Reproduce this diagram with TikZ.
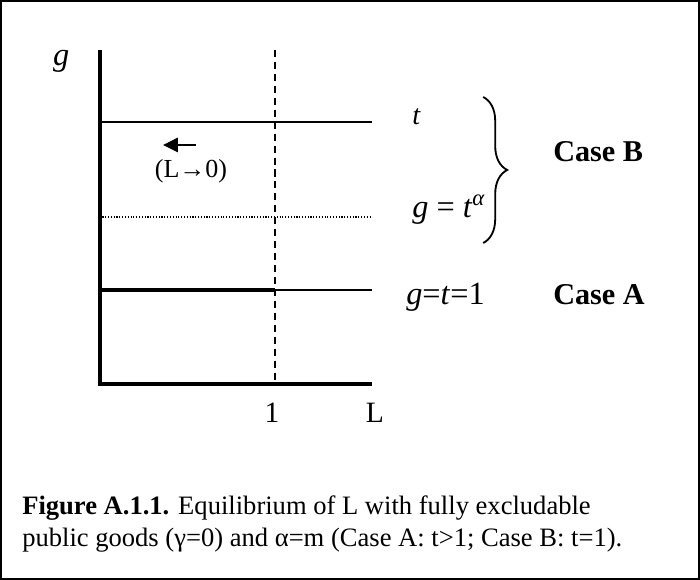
\documentclass[tikz,border=0pt]{standalone}
\usepackage{fontspec}
\setmainfont{Liberation Serif}
\usetikzlibrary{positioning,calc,arrows.meta,decorations.pathreplacing}

\tikzset{
  axisline/.style={line width=2.8pt, line cap=butt},
  thinline/.style={line width=1pt},
  thickline/.style={line width=2.8pt},
  dashline/.style={line width=1.1pt, dash pattern=on 5pt off 3.5pt},
  dotline/.style={line width=0.9pt, dash pattern=on 0.8pt off 1.2pt},
  mathlbl/.style={font=\fontsize{23}{26}\selectfont, inner sep=0pt, anchor=base west},
  caselbl/.style={font=\fontsize{21.5}{24}\selectfont\bfseries, inner sep=0pt, anchor=base west},
  ticklbl/.style={font=\fontsize{21}{24}\selectfont, inner sep=0pt, anchor=base},
  captext/.style={font=\fontsize{18.9}{22.8}\selectfont, inner sep=0pt, anchor=base west},
}

\begin{document}
\begin{tikzpicture}
  \useasboundingbox (0,0) rectangle (17.5,14.5);
  \draw[line width=1.4pt] (0.025,0.025) rectangle (17.475,14.475);

  % axes
  \coordinate (O) at (2.49,4.9);
  \coordinate (Ytop) at (2.49,13.25);
  \coordinate (Xend) at (9.3,4.9);
  \draw[axisline] (Ytop) -- (O) -- (Xend);

  % L = 1
  \coordinate (Dtop) at (6.875,13.25);
  \coordinate (Dbot) at (6.875,4.95);
  \draw[dashline] (Dtop) -- (Dbot);

  % levels
  \coordinate (Tl) at (2.49,11.45);
  \coordinate (Tr) at (9.3,11.45);
  \draw[thinline] (Tl) -- (Tr);
  \coordinate (Al) at (2.49,9.075);
  \coordinate (Ar) at (9.3,9.075);
  \draw[dotline] (Al) -- (Ar);
  \coordinate (Cl) at (2.49,7.25);
  \coordinate (Cm) at (6.875,7.25);
  \coordinate (Cr) at (9.3,7.25);
  \draw[thickline] (Cl) -- (Cm);
  \draw[thinline] (Cm) -- (Cr);

  % direction
  \coordinate (ArrS) at (4.9,10.875);
  \coordinate (ArrE) at (4.075,10.875);
  \draw[line width=1.8pt, -{Triangle[length=10.5pt, width=10pt]}] (ArrS) -- (ArrE);
  \node[font=\fontsize{18.5}{22}\selectfont, inner sep=0pt] (lzero) at (4.775,10.225) {(L→0)};

  % labels
  \node[mathlbl] (gax) at (1.32,12.85) {\textit{g}};
  \node[mathlbl, font=\fontsize{20}{24}\selectfont] (tlbl) at (10.3,11.375) {\textit{t}};
  \node[mathlbl] (galpha) at (10.3,9.05) {\textit{g} = \textit{t}\textsuperscript{\itshape α}};
  \node[mathlbl] (gone) at (10.15,6.875) {\textit{g}=\textit{t}=1};
  \node[caselbl] (caseB) at (13.825,10.45) {Case B};
  \node[caselbl] (caseA) at (13.825,6.875) {Case A};
  \node[ticklbl] (one) at (6.8,3.925) {1};
  \node[ticklbl] (ell) at (9.375,3.925) {L};

  \coordinate (BrTop) at (12.08,12.075);
  \coordinate (BrBot) at (12.08,8.425);
  \draw[line width=1.3pt, decorate, decoration={brace, amplitude=0.6cm, aspect=0.5}] (BrTop) -- (BrBot);

  % caption
  \node[captext] (cap1) at (0.55,1.625) {\textbf{Figure A.1.1.} Equilibrium of L with fully excludable};
  \node[captext] (cap2) at (0.55,0.825) {public goods (γ=0) and α=m (Case A: t>1; Case B: t=1).};
\end{tikzpicture}
\end{document}
